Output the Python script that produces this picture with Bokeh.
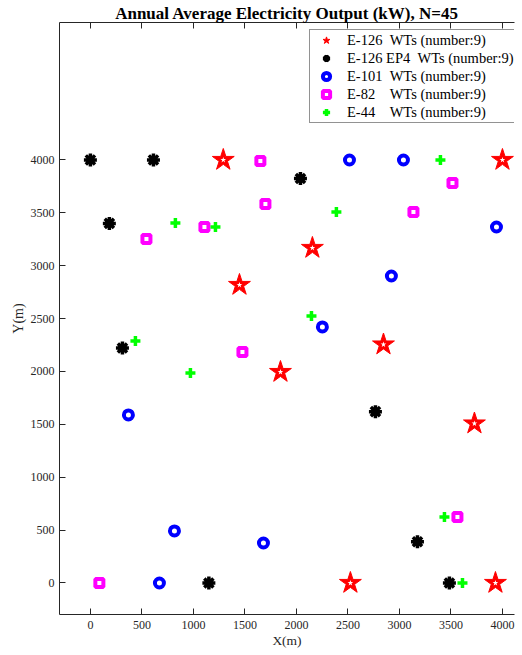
from bokeh.plotting import figure
from bokeh.models import (Range1d, LinearAxis, FixedTicker, Legend, LegendItem,
                          CustomLabelingPolicy)
from bokeh.embed import file_html
from bokeh.resources import INLINE

# ---------------- data ----------------
title_text = "Annual Average Electricity Output (kW), N=45"
x_label = "X(m)"
y_label = "Y(m)"
tick_values = [0, 500, 1000, 1500, 2000, 2500, 3000, 3500, 4000]

e126_x = [1290, 4000, 2155, 1447, 2845, 1845, 3728, 2524, 3932]
e126_y = [4000, 4000, 3168, 2818, 2255, 1995, 1508, 0, 0]

ep4_x = [0, 612, 2039, 184, 311, 2767, 3175, 1150, 3485]
ep4_y = [4000, 4000, 3825, 3400, 2222, 1620, 390, 0, 0]

e101_x = [2515, 3039, 3942, 2922, 2252, 369, 816, 1680, 670]
e101_y = [4000, 4000, 3366, 2903, 2421, 1589, 492, 378, 0]

e82_x = [1650, 1699, 1107, 544, 1476, 3515, 3136, 3563, 87]
e82_y = [3990, 3584, 3366, 3253, 2184, 3783, 3508, 624, 0]

e44_x = [825, 1214, 2388, 3398, 2146, 437, 971, 3437, 3612]
e44_y = [3404, 3366, 3508, 4000, 2525, 2288, 1986, 624, 0]

NB = "\u00a0"
labels = [
    "E-126" + NB * 2 + "WTs (number:9)",
    "E-126 EP4" + NB * 2 + "WTs (number:9)",
    "E-101" + NB * 2 + "WTs (number:9)",
    "E-82" + NB * 4 + "WTs (number:9)",
    "E-44" + NB * 4 + "WTs (number:9)",
]

FONT = "Liberation Serif"
AX = "#262626"
FH = 592

p = figure(frame_width=455, frame_height=FH,
           x_range=Range1d(-300, 4117), y_range=Range1d(-298, 5300),
           output_backend="svg", toolbar_location=None,
           background_fill_color="white", border_fill_color="white")
p.margin = (0, 0, 0, 7)
p.outline_line_color = None
p.grid.visible = False

for ax in (p.xaxis[0], p.yaxis[0]):
    ax.ticker = FixedTicker(ticks=tick_values)
    ax.major_tick_in = 6
    ax.major_tick_out = 0
    ax.minor_tick_line_color = None
    ax.axis_line_color = AX
    ax.major_tick_line_color = AX
    ax.major_label_text_font = FONT
    ax.major_label_text_font_size = "12px"
    ax.major_label_text_color = AX
    ax.axis_label_text_font = FONT
    ax.axis_label_text_font_size = "14px"
    ax.axis_label_text_font_style = "normal"
    ax.axis_label_text_color = AX

p.xaxis.axis_label = x_label
p.yaxis.axis_label = y_label
p.xaxis.major_label_standoff = 6
p.xaxis.axis_label_standoff = 1
p.xaxis.axis_label_text_font_size = "13.5px"
p.yaxis.major_label_standoff = 5
p.yaxis.axis_label_standoff = 2

top = LinearAxis(ticker=FixedTicker(ticks=tick_values))
top.major_tick_in = 6
top.major_tick_out = 0
top.minor_tick_line_color = None
top.axis_line_color = AX
top.major_tick_line_color = AX
top.major_label_policy = CustomLabelingPolicy(code="return []")
top.major_label_text_font_size = "1px"
top.major_label_standoff = 0
top.axis_label = title_text
top.axis_label_text_font = FONT
top.axis_label_text_font_size = "17px"
top.axis_label_text_font_style = "bold"
top.axis_label_text_color = "black"
top.axis_label_standoff = -4
p.add_layout(top, "above")

r1 = p.scatter(e126_x, e126_y, marker="star", size=23, fill_color="#FF0000",
               line_color="#FF0000", line_width=1)
r1w = p.scatter(e126_x, e126_y, marker="star", size=6, fill_color="white",
                line_color=None)
r2 = p.scatter(ep4_x, ep4_y, marker="asterisk", size=13, line_color="black",
               line_width=3.5)
r3 = p.scatter(e101_x, e101_y, marker="circle", size=9, fill_color=None,
               line_color="#0000FF", line_width=4)
r4 = p.scatter(e82_x, e82_y, marker="square", size=8, fill_color=None,
               line_color="#FF00FF", line_width=4)
r5 = p.scatter(e44_x, e44_y, marker="cross", size=10, line_color="#00FF00",
               line_width=3.5)

legend = Legend(items=[
    LegendItem(label=labels[0], renderers=[r1]),
    LegendItem(label=labels[1], renderers=[r2]),
    LegendItem(label=labels[2], renderers=[r3]),
    LegendItem(label=labels[3], renderers=[r4]),
    LegendItem(label=labels[4], renderers=[r5]),
])
LEG_H = 92
legend.location = (250, FH - 9 - LEG_H)
legend.label_text_font = FONT
legend.label_text_font_size = "14.5px"
legend.label_text_color = "black"
legend.glyph_width = 30
legend.glyph_height = 18
legend.label_height = 18
legend.label_standoff = 6
legend.spacing = 0
legend.padding = 1
legend.margin = 0
legend.border_line_color = AX
legend.border_line_width = 1
legend.background_fill_color = "white"
legend.background_fill_alpha = 1
p.add_layout(legend, "center")

open("out.html", "w").write(file_html(p, INLINE))
